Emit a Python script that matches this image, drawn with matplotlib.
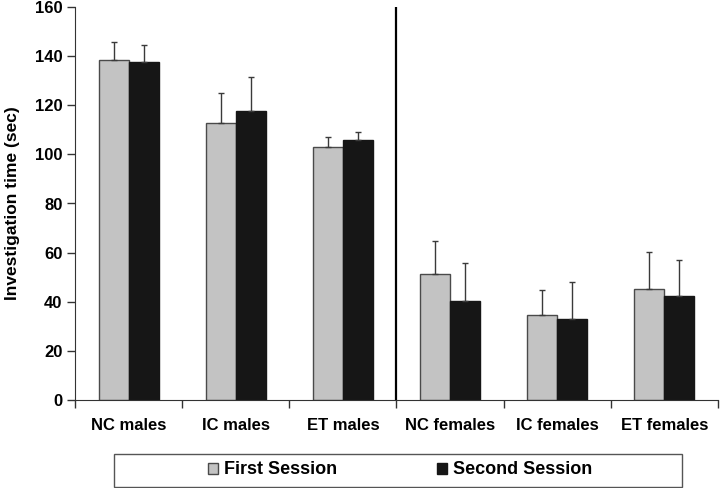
import numpy as np
import matplotlib.pyplot as plt
from matplotlib.patches import Rectangle

# Данные
groups = ['NC males', 'IC males', 'ET males', 'NC females', 'IC females', 'ET females']
first_session = [138.3, 112.9, 103.0, 51.4, 34.8, 45.1]
first_err = [7.4, 11.9, 4.0, 13.5, 9.8, 15.2]
second_session = [137.8, 117.6, 106.0, 40.5, 32.9, 42.4]
second_err = [6.9, 14.1, 3.2, 15.3, 15.2, 14.4]
y_ticks = [0, 20, 40, 60, 80, 100, 120, 140, 160]

plt.rcParams['font.family'] = ['Liberation Sans', 'DejaVu Sans']
plt.rcParams['font.weight'] = 'bold'

fig = plt.figure(figsize=(7.2, 4.88), dpi=100)
ax = fig.add_axes([75 / 720, 1 - 400 / 488, 643 / 720, 393 / 488])

x = np.arange(len(groups))
w = 0.28
err_kw = dict(ecolor='#3a3a3a', elinewidth=1, capsize=2.3, capthick=1)

ax.bar(x - w / 2, first_session, w, color='#c3c3c3', edgecolor='#4a4a4a',
       linewidth=1, yerr=[np.zeros(len(x)), first_err], error_kw=err_kw,
       label='First Session')
ax.bar(x + w / 2, second_session, w, color='#161616', edgecolor='#161616',
       linewidth=1, yerr=[np.zeros(len(x)), second_err], error_kw=err_kw,
       label='Second Session')

# разделительная линия между самцами и самками
ax.axvline(2.5, ymin=0, ymax=1, color='black', linewidth=1.6)

ax.set_xlim(-0.5, 5.5)
ax.set_ylim(0, 160)
ax.set_yticks(y_ticks)
ax.set_yticklabels([str(v) for v in y_ticks], fontsize=12, fontweight='bold')
ax.set_xticks(x)
ax.set_xticklabels(groups, fontsize=12, fontweight='bold')
ax.tick_params(axis='x', which='major', length=0, pad=13)
ax.set_xticks(np.arange(-0.5, 6, 1), minor=True)
ax.tick_params(axis='x', which='minor', length=6, width=1, color='#333333')
ax.tick_params(axis='y', length=6, width=1, color='#333333', pad=3)

ax.spines['top'].set_visible(False)
ax.spines['right'].set_visible(False)
ax.spines['left'].set_color('#333333')
ax.spines['bottom'].set_color('#333333')

ax.set_ylabel('Investigation time (sec)', fontsize=12.5, fontweight='bold')
ax.yaxis.set_label_coords(-0.086, 0.5)

# рамка легенды
fig.patches.append(Rectangle((114 / 720, 1 / 488), 568 / 720, 33 / 488,
                             transform=fig.transFigure, fill=False,
                             edgecolor='#555555', linewidth=1))
fig.legend(loc='center', bbox_to_anchor=(400 / 720, 1 - 470 / 488), ncol=2,
           frameon=False, handlelength=0.55, handleheight=0.55,
           handletextpad=0.35, columnspacing=5.5,
           prop={'weight': 'bold', 'size': 13})

fig.savefig('out.png', dpi=100)
